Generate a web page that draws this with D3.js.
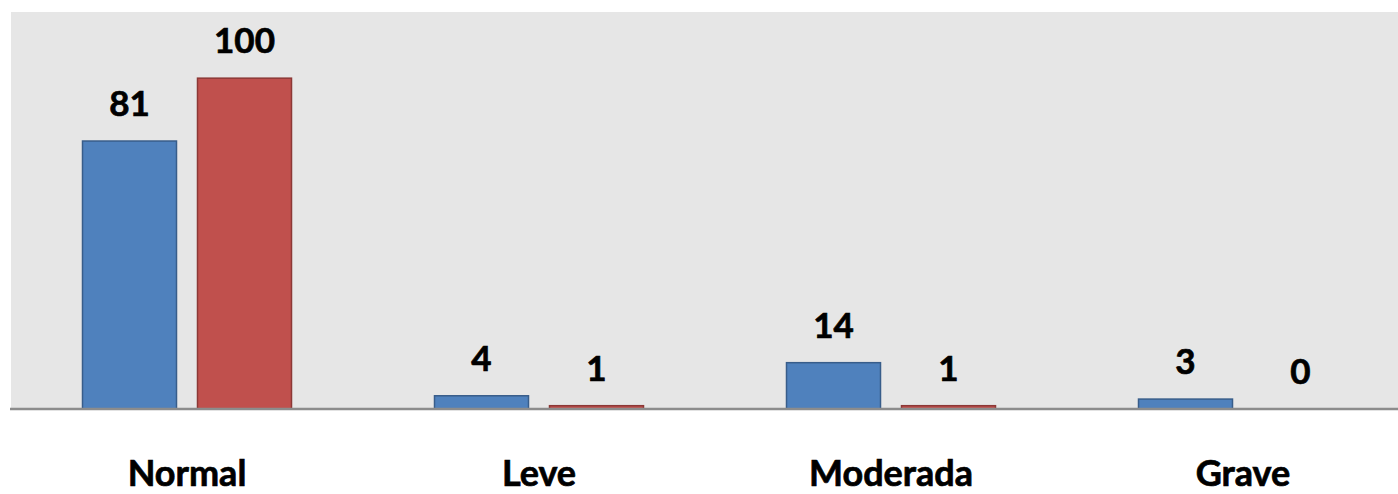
<!DOCTYPE html>
<html><head><meta charset="utf-8">
<script src="https://cdn.jsdelivr.net/npm/d3@7"></script>
<style>body{margin:0;background:#fff}svg{display:block}</style>
</head><body>
<script>
const categories = ["Normal", "Leve", "Moderada", "Grave"];
const series1 = [81, 4, 14, 3];
const series2 = [100, 1, 1, 0];
const seriesNames = ["Serie 1", "Serie 2"];

const W = 1398, H = 494;
const plot = {left: 11, top: 12, right: 1419, bottom: 409};
const svg = d3.select("body").append("svg").attr("width", W).attr("height", H);

svg.append("rect").attr("x", plot.left).attr("y", plot.top)
  .attr("width", W - plot.left).attr("height", plot.bottom - plot.top)
  .attr("fill", "#e6e6e6");

const x0 = d3.scaleBand().domain(categories).range([plot.left, plot.right]).paddingInner(0).paddingOuter(0);
const y = d3.scaleLinear().domain([0, 120]).range([plot.bottom, plot.top]);
const barW = 94, gap = 21;
const x1 = d3.scaleOrdinal().domain([0, 1]).range([
  (x0.bandwidth() - 2 * barW - gap) / 2,
  (x0.bandwidth() - 2 * barW - gap) / 2 + barW + gap
]);
const fills = ["#4f81bd", "#c0504d"];
const strokes = ["#385d8a", "#8c3836"];
const data = [series1, series2];

data.forEach((vals, s) => {
  const g = svg.append("g");
  g.selectAll("rect").data(vals).join("rect")
    .attr("x", (d, i) => x0(categories[i]) + x1(s))
    .attr("y", d => y(d))
    .attr("width", barW)
    .attr("height", d => plot.bottom - y(d))
    .attr("fill", fills[s])
    .attr("stroke", d => d > 0 ? strokes[s] : "none")
    .attr("stroke-width", 1.5);
  g.selectAll("text").data(vals).join("text")
    .attr("x", (d, i) => x0(categories[i]) + x1(s) + barW / 2)
    .attr("y", d => y(d) - 25)
    .attr("text-anchor", "middle")
    .attr("font-family", "Lato, sans-serif")
    .attr("font-weight", "bold")
    .attr("font-size", 35)
    .attr("fill", "#000")
    .attr("stroke", "#000").attr("stroke-width", 0.7)
    .text(d => d);
});

const xAxis = d3.axisBottom(x0).tickSize(0).tickPadding(0);
const ax = svg.append("g").attr("transform", `translate(0,${plot.bottom})`).call(xAxis);
ax.select(".domain").attr("stroke", "#8c8c8c").attr("stroke-width", 2.5)
  .attr("d", `M${plot.left - 1},0H${W}`);
ax.selectAll("text")
  .attr("y", 77).attr("dy", 0)
  .attr("font-family", "Lato, sans-serif")
  .attr("font-weight", "bold")
  .attr("font-size", 36)
  .attr("fill", "#000")
  .attr("stroke", "#000").attr("stroke-width", 0.7);
</script>
</body></html>
